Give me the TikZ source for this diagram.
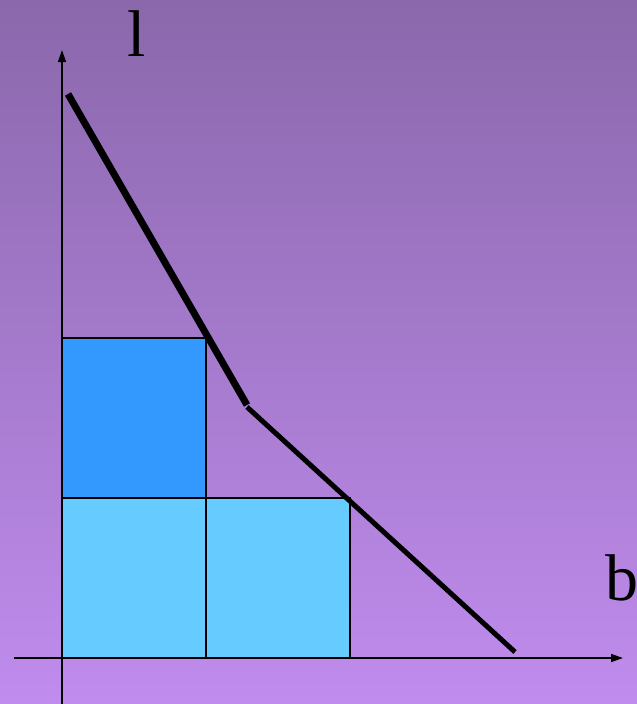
\documentclass[tikz,border=0pt]{standalone}
\usepackage{fontspec}
\setmainfont{Liberation Serif}
\usetikzlibrary{arrows.meta}
\definecolor{bgtop}{RGB}{138,104,171}
\definecolor{bgbot}{RGB}{192,140,238}
\definecolor{darkbox}{RGB}{51,153,255}
\definecolor{lightbox}{RGB}{102,204,255}
\tikzset{
  axis/.style={line width=1.5pt, -{Triangle[length=12pt,width=8pt]}},
  box/.style={draw=black, line width=2pt, inner sep=0pt, minimum width=144pt, minimum height=160pt},
  lbl/.style={font=\fontsize{66}{66}\selectfont, inner sep=0pt, text=black}
}
\begin{document}
\begin{tikzpicture}[x=1pt,y=-1pt]
\useasboundingbox (0,0) rectangle (637,704);
\shade[top color=bgtop, bottom color=bgbot] (0,0) rectangle (637,704);
% boxes
\node[box, fill=darkbox] (b1) at (134,418) {};
\node[box, fill=lightbox] (b2) at (134,578) {};
\node[box, fill=lightbox] (b3) at (278,578) {};
% axes
\coordinate (o) at (62,658);
\coordinate (ybot) at (62,704);
\coordinate (ytop) at (62,50);
\coordinate (xleft) at (14,658);
\coordinate (xright) at (623,658);
\draw[axis] (ybot) -- (ytop);
\draw[axis] (xleft) -- (xright);
% labels
\node[lbl] (l) at (137,34) {l};
\node[lbl] (bl) at (622,578) {b};
% budget lines
\coordinate (p1) at (68,94);
\coordinate (p2) at (247,405);
\coordinate (p3) at (247,407);
\coordinate (p4) at (515,652);
\draw[line width=7pt] (p1) -- (p2);
\draw[line width=5pt] (p3) -- (p4);
\end{tikzpicture}
\end{document}
